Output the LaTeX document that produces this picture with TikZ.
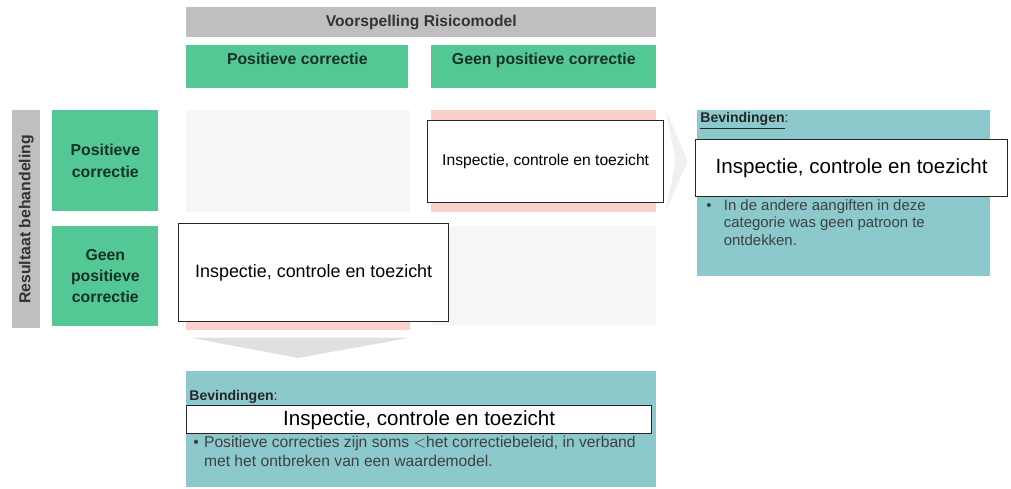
\documentclass[tikz,border=0pt]{standalone}
\usepackage{fontspec}
\setmainfont{Liberation Sans}
\usetikzlibrary{positioning}
\definecolor{headgray}{RGB}{191, 191, 191}
\definecolor{mint}{RGB}{84, 200, 148}
\definecolor{lagoon}{RGB}{140, 201, 205}
\definecolor{blush}{RGB}{250, 208, 202}
\definecolor{mist}{RGB}{246, 246, 246}
\definecolor{inkgreen}{RGB}{20, 50, 35}
\tikzset{headbar/.style={fill=headgray,inner sep=0pt,anchor=north west,font=\fontsize{8.9}{10}\selectfont\bfseries,text=black!80}}
\tikzset{greenhead/.style={fill=mint,inner sep=0pt,anchor=north west,font=\fontsize{9}{11}\selectfont\bfseries,text=inkgreen,align=center}}
\tikzset{cellbg/.style={inner sep=0pt,anchor=north west}}
\tikzset{whitebox/.style={draw=black!85,line width=0.8pt,fill=white,inner sep=0pt,anchor=north west}}
\tikzset{panel/.style={fill=lagoon,inner sep=0pt,anchor=north west}}
\tikzset{bullettext/.style={anchor=north west,inner sep=0pt,text=black!75,align=left}}

\begin{document}
\begin{tikzpicture}[x=0.02cm,y=-0.02cm]

	\useasboundingbox (0,0) rectangle (1011,488);
	% kolomkoppen
	\node[headbar,minimum width=9.4cm,minimum height=0.6cm] (model) at (186,7) {Voorspelling Risicomodel};
	\node[greenhead,minimum width=4.44cm,text height=0.38cm,text depth=0.48cm] (colpos) at (186,45) {Positieve correctie};
	\node[greenhead,minimum width=4.5cm,text height=0.38cm,text depth=0.48cm] (colneg) at (431,45) {Geen positieve correctie};
	% rijkoppen
	\node[headbar,minimum width=0.56cm,minimum height=4.36cm] (result) at (12,110) {};
	\node[font=\fontsize{9}{11}\selectfont\bfseries,text=black!80,rotate=90] (resulttext) at (result.center) {Resultaat behandeling};
	\node[greenhead,minimum width=2.12cm,minimum height=2.02cm] (rowpos) at (52,110) {Positieve\\[1pt]correctie};
	\node[greenhead,minimum width=2.12cm,minimum height=2.0cm] (rowneg) at (52,226) {Geen\\[1pt]positieve\\[1pt]correctie};
	% cellen
	\node[cellbg,fill=mist,minimum width=4.48cm,minimum height=2.04cm] (tl) at (186,110) {};
	\node[cellbg,fill=blush,minimum width=4.5cm,minimum height=2.04cm] (tr) at (431,110) {};
	\node[cellbg,fill=blush,minimum width=4.48cm,minimum height=2.08cm] (bl) at (186,226) {};
	\node[cellbg,fill=mist,minimum width=4.5cm,minimum height=1.98cm] (br) at (431,226) {};
	\node[whitebox,minimum width=4.72cm,minimum height=1.64cm,font=\fontsize{8.9}{10}\selectfont] (trbox) at (427,120) {Inspectie, controle en toezicht};
	\node[whitebox,minimum width=5.4cm,minimum height=1.96cm,font=\fontsize{10.2}{12}\selectfont] (blbox) at (178,223) {Inspectie, controle en toezicht};
	% pijlen
	\fill[black!12] (bl.south west) ++(4,7) -- ++(220,0) -- (bl.south |- 0,358) -- cycle;
	\fill[black!6] (tr.north east) ++(9,0) -- ++(22,51) -- ++(-22,51) -- ++(10,-51) -- cycle;
	% bevindingen rechts
	\node[panel,minimum width=5.86cm,minimum height=3.32cm] (rightpanel) at (697,110) {};
	\node[anchor=west,inner sep=0pt,font=\fontsize{8}{9.9}\selectfont,text=black!85] (righthead) at (700,121) {\textbf{\underline{Bevindingen}}:};
	\node[whitebox,minimum width=6.24cm,minimum height=1.14cm,font=\fontsize{11.7}{14}\selectfont] (rightbox) at (695,139) {Inspectie, controle en toezicht};
	\node[bullettext,font=\fontsize{8.5}{10}\selectfont] (rightnote) at (706,199) {\textbullet\hspace{7pt}\parbox[t]{4.8cm}{In de andere aangiften in deze\\categorie was geen patroon te\\ontdekken.}};
	% bevindingen onder
	\node[panel,minimum width=9.4cm,minimum height=2.32cm] (bottompanel) at (186,371) {};
	\node[anchor=west,inner sep=0pt,font=\fontsize{8}{9.9}\selectfont,text=black!85] (bottomhead) at (189,399) {\textbf{\underline{Bevindingen}}:};
	\node[whitebox,minimum width=9.3cm,minimum height=0.56cm,font=\fontsize{11.7}{14}\selectfont] (bottombox) at (186,405) {Inspectie, controle en toezicht};
	\node[bullettext,font=\fontsize{8.9}{10.8}\selectfont] (bottomnote) at (193,436) {\textbullet\hspace{3pt}\parbox[t]{9cm}{Positieve correcties zijn soms $<$het correctiebeleid, in verband\\met het ontbreken van een waardemodel.}};
\end{tikzpicture}
\end{document}
